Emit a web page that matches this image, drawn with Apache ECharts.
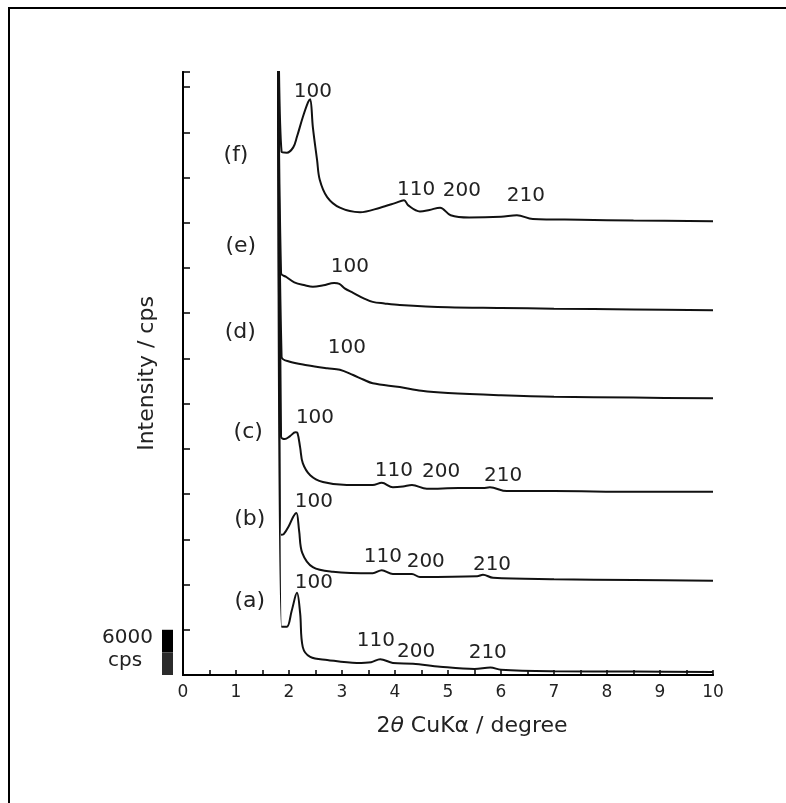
<!DOCTYPE html>
<html>
<head>
<meta charset="utf-8">
<script src="https://cdn.jsdelivr.net/npm/echarts@6/dist/echarts.min.js"></script>
<style>
  html, body { margin: 0; padding: 0; background: #fff; }
  #chart { width: 786px; height: 803px; }
</style>
</head>
<body>
<div id="chart"></div>
<script>
// XRD patterns (2θ in degrees, intensity in cps, curves already offset)
const curveA = [[1.79,100000],[1.86,6400],[1.96,6400],[2.05,8500],[2.15,10900],[2.21,8200],[2.26,3700],[2.40,2400],[2.72,2000],[3.28,1600],[3.55,1700],[3.72,2100],[3.96,1600],[4.34,1500],[4.85,1100],[5.5,800],[5.8,1000],[6.0,700],[7,500],[8.5,450],[10,400]];
const curveB = [[1.79,100000],[1.85,18600],[1.90,18700],[2.0,19800],[2.08,21000],[2.14,21500],[2.19,19200],[2.25,16200],[2.45,14300],[2.83,13700],[3.58,13500],[3.75,13900],[3.96,13400],[4.32,13400],[4.47,13000],[5.55,13100],[5.66,13300],[5.85,12900],[7,12700],[8.5,12600],[10,12500]];
const curveC = [[1.79,100000],[1.85,31600],[1.92,31300],[2.02,31700],[2.12,32200],[2.16,32100],[2.21,30200],[2.26,28100],[2.40,26500],[2.64,25600],[3.09,25200],[3.58,25200],[3.75,25500],[3.96,24900],[4.15,25000],[4.32,25200],[4.60,24700],[5.2,24800],[5.66,24800],[5.79,24900],[6.11,24400],[7,24400],[8.5,24300],[10,24300]];
const curveD = [[1.79,100000],[1.86,42200],[2.0,41600],[2.34,41100],[2.72,40700],[2.96,40500],[3.21,39800],[3.4,39200],[3.58,38700],[4.09,38200],[4.5,37700],[5,37400],[6,37100],[7,36900],[8.5,36800],[10,36700]];
const curveE = [[1.79,100000],[1.85,53300],[1.95,52800],[2.1,52100],[2.3,51700],[2.45,51500],[2.65,51700],[2.85,52000],[2.95,51900],[3.05,51300],[3.21,50700],[3.4,50000],[3.58,49500],[3.8,49300],[4.09,49100],[5,48800],[6,48700],[7,48600],[8.5,48500],[10,48400]];
const curveF = [[1.79,100000],[1.86,69400],[1.96,69300],[2.08,70000],[2.15,71400],[2.26,74000],[2.36,76000],[2.40,76400],[2.45,72700],[2.53,68300],[2.58,65700],[2.72,63400],[2.96,62000],[3.34,61400],[3.72,62000],[4.0,62600],[4.17,63000],[4.25,62300],[4.47,61500],[4.65,61700],[4.85,62000],[5.05,61000],[5.4,60700],[6.0,60800],[6.3,61000],[6.6,60500],[7.5,60400],[8.5,60300],[10,60200]];

const sampleTags = ['(a)', '(b)', '(c)', '(d)', '(e)', '(f)'];
const curves = [curveA, curveB, curveC, curveD, curveE, curveF];

// Where each sample tag sits (2θ, cps)
const tagAnchors = [[1.26,9820],[1.26,20700],[1.23,32240],[1.08,45510],[1.09,56920],[1.0,68990]];

// Miller indices of reflections per pattern, with label anchors (2θ, cps)
const reflections = [
  [['100',2.47,12200],['110',3.64,4510],['200',4.40,3050],['210',5.75,2920]],
  [['100',2.47,22950],['110',3.77,15650],['200',4.58,14990],['210',5.83,14590]],
  [['100',2.49,34100],['110',3.98,27060],['200',4.87,26930],['210',6.04,26400]],
  [['100',3.09,43380]],
  [['100',3.15,54130]],
  [['100',2.45,77350],['110',4.40,64340],['200',5.26,64210],['210',6.47,63540]]
];

const xTickValues = [0,1,2,3,4,5,6,7,8,9,10];
const scaleBarCps = 6000;

const ink = '#111';
const labelFont = 'DejaVu Sans';

const chart = echarts.init(document.getElementById('chart'), null, { renderer: 'canvas' });

const series = curves.map((data, i) => ({
  type: 'line',
  data: data,
  symbol: 'none',
  smooth: 0.35,
  lineStyle: { color: ink, width: 2 },
  silent: true,
  z: 3,
  markPoint: {
    symbol: 'circle',
    symbolSize: 0,
    silent: true,
    label: {
      show: true,
      position: 'inside',
      color: '#222',
      fontFamily: labelFont,
      fontSize: 20,
      formatter: p => p.name
    },
    data: reflections[i].map(r => ({ name: r[0], coord: [r[1], r[2]] }))
      .concat([{ name: sampleTags[i], coord: tagAnchors[i], label: { fontSize: 22 } }])
  }
}));

chart.setOption({
  backgroundColor: '#fff',
  animation: false,
  grid: { left: 183, top: 72, width: 530, height: 603, containLabel: false },
  xAxis: [
    {
      type: 'value', min: 0, max: 10, interval: 0.5,
      axisLine: { lineStyle: { color: '#000', width: 2 } },
      axisTick: { inside: true, length: 5, lineStyle: { color: '#000', width: 1.5 } },
      splitLine: { show: false },
      axisLabel: {
        color: '#222', fontFamily: labelFont, fontSize: 17, margin: 9,
        formatter: v => (xTickValues.indexOf(v) >= 0 ? String(v) : '')
      },
      name: '{n|2}{t|θ}{n| CuKα / degree}',
      nameLocation: 'middle', nameGap: 40,
      nameTextStyle: {
        padding: [0, 0, 0, 48],
        rich: {
          n: { fontFamily: labelFont, fontSize: 22, color: '#222' },
          t: { fontFamily: labelFont, fontSize: 22, color: '#222', fontStyle: 'italic' }
        }
      }
    },
    {
      type: 'value', min: 0, max: 10, position: 'top',
      axisLine: { lineStyle: { color: '#000', width: 2 } },
      axisTick: { show: false }, axisLabel: { show: false }, splitLine: { show: false }
    }
  ],
  yAxis: [
    {
      type: 'value', min: 0, max: 80000, interval: 6000,
      axisLine: { lineStyle: { color: '#000', width: 2 } },
      axisTick: { inside: true, length: 7, lineStyle: { color: '#000', width: 1.5 } },
      axisLabel: { show: false },
      splitLine: { show: false },
      name: 'Intensity / cps',
      nameLocation: 'middle', nameRotate: 90, nameGap: 25,
      nameTextStyle: { fontFamily: labelFont, fontSize: 22, color: '#222' }
    },
    {
      type: 'value', min: 0, max: 80000, position: 'right',
      axisLine: { lineStyle: { color: '#000', width: 2 } },
      axisTick: { show: false }, axisLabel: { show: false }, splitLine: { show: false }
    }
  ],
  series: series
});

// Scale bar for 6000 cps, sized through the intensity axis
const yBase = chart.convertToPixel({ yAxisIndex: 0 }, 0);
const yTop = chart.convertToPixel({ yAxisIndex: 0 }, scaleBarCps);
chart.setOption({
  graphic: [
    // page frame
    { type: 'polyline', shape: { points: [[9, 803], [9, 8], [786, 8]] },
      style: { stroke: '#000', lineWidth: 2, fill: null }, z: 10 },
    { type: 'rect', shape: { x: 162, y: yTop, width: 11, height: (yBase - yTop) / 2 },
      style: { fill: '#000' }, z: 10 },
    { type: 'rect', shape: { x: 162, y: yTop + (yBase - yTop) / 2, width: 11, height: (yBase - yTop) / 2 },
      style: { fill: '#2b2b2b' }, z: 10 },
    { type: 'text', x: 153, y: yTop + 8, style: { text: String(scaleBarCps), font: '20px "DejaVu Sans"', fill: '#222', align: 'right', verticalAlign: 'middle' }, z: 10 },
    { type: 'text', x: 125, y: yTop + 31, style: { text: 'cps', font: '20px "DejaVu Sans"', fill: '#222', align: 'center', verticalAlign: 'middle' }, z: 10 }
  ]
});
</script>
</body>
</html>
